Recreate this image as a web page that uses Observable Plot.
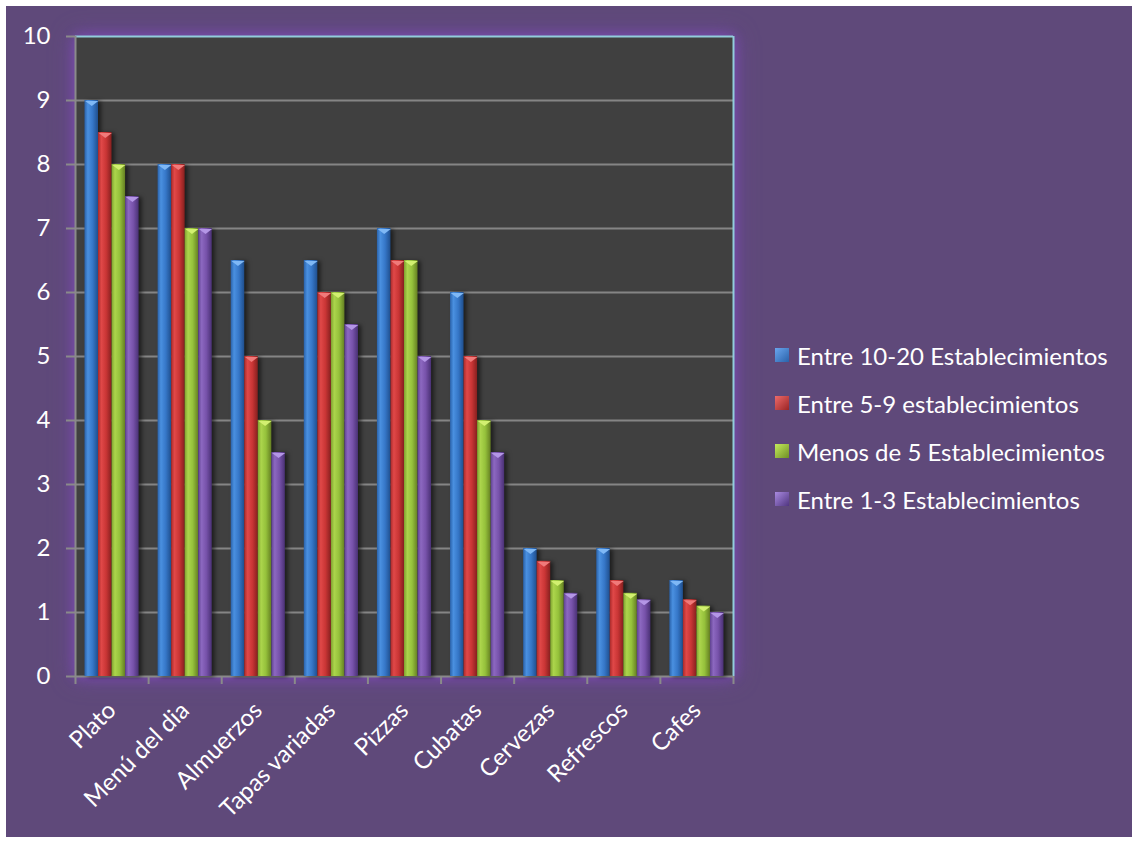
<!DOCTYPE html>
<html>
<head>
<meta charset="utf-8">
<script src="https://cdn.jsdelivr.net/npm/d3@7"></script>
<script src="https://cdn.jsdelivr.net/npm/@observablehq/plot@0.6"></script>
<style>
  html, body { margin: 0; padding: 0; background: #ffffff; width: 1132px; height: 841px; overflow: hidden; font-family: Lato, "Open Sans", sans-serif; }
  #bg { position: absolute; left: 6px; top: 6px; width: 1126px; height: 831px; background: #5f497a; }
  .layer { position: absolute; left: 0; top: 0; }
  .layer svg { display: block; }
  #back [aria-label="frame"] { filter: drop-shadow(0 0 6px #7a4cb4) drop-shadow(0 0 10px #70479f); }
  #front g[aria-label="bar"] { filter: drop-shadow(3px 1px 2px rgba(0,0,0,0.55)); }
  #legend { position: absolute; left: 775px; top: 331px; color: #ffffff; font-size: 24px; font-family: Lato, sans-serif; }
  #legend .row { display: flex; align-items: center; height: 48px; white-space: nowrap; }
  #legend .sw { width: 14px; height: 14px; margin-right: 8px; box-sizing: border-box; }
</style>
</head>
<body>
<svg width="0" height="0" style="position:absolute">
  <defs>
    <linearGradient id="g0" x1="0" x2="1" y1="0" y2="0">
      <stop offset="0" stop-color="#2a62aa"/><stop offset="0.25" stop-color="#4a90e0"/><stop offset="0.6" stop-color="#3677c8"/><stop offset="1" stop-color="#1f4f8e"/>
    </linearGradient>
    <linearGradient id="g1" x1="0" x2="1" y1="0" y2="0">
      <stop offset="0" stop-color="#a92a2a"/><stop offset="0.25" stop-color="#e04848"/><stop offset="0.6" stop-color="#c93535"/><stop offset="1" stop-color="#86201f"/>
    </linearGradient>
    <linearGradient id="g2" x1="0" x2="1" y1="0" y2="0">
      <stop offset="0" stop-color="#7ea12f"/><stop offset="0.25" stop-color="#acd54c"/><stop offset="0.6" stop-color="#95c13b"/><stop offset="1" stop-color="#657f22"/>
    </linearGradient>
    <linearGradient id="g3" x1="0" x2="1" y1="0" y2="0">
      <stop offset="0" stop-color="#5f4290"/><stop offset="0.25" stop-color="#8c68c0"/><stop offset="0.6" stop-color="#7752aa"/><stop offset="1" stop-color="#4a3175"/>
    </linearGradient>
  </defs>
</svg>
<div id="bg"></div>
<div id="back" class="layer"></div>
<div id="front" class="layer"></div>
<div id="legend"></div>
<script>
// ---- data ----
const categories = ["Plato", "Menú del dia", "Almuerzos", "Tapas variadas", "Pizzas", "Cubatas", "Cervezas", "Refrescos", "Cafes"];
const series = ["Entre 10-20 Establecimientos", "Entre 5-9 establecimientos", "Menos de 5 Establecimientos", "Entre 1-3 Establecimientos"];
const entre10a20 = [9, 8, 6.5, 6.5, 7, 6, 2, 2, 1.5];
const entre5a9   = [8.5, 8, 5, 6, 6.5, 5, 1.8, 1.5, 1.2];
const menosDe5   = [8, 7, 4, 6, 6.5, 4, 1.5, 1.3, 1.1];
const entre1a3   = [7.5, 7, 3.5, 5.5, 5, 3.5, 1.3, 1.2, 1.0];
const yTicks = [0, 1, 2, 3, 4, 5, 6, 7, 8, 9, 10];

// ---- styles ----
const barFills = ["url(#g0)", "url(#g1)", "url(#g2)", "url(#g3)"];
const capFills = ["#7fb8f5", "#f07a7a", "#d2f070", "#b496e6"];
const legendBg = [
  "linear-gradient(135deg,#6aa6ee,#2a62aa)",
  "linear-gradient(135deg,#ee6a6a,#9a2424)",
  "linear-gradient(135deg,#c4ec5c,#6f8f25)",
  "linear-gradient(135deg,#a98ae0,#503580)"
];
const W = 1132, H = 841;
const margins = {marginLeft: 75, marginRight: 399, marginTop: 36, marginBottom: 165};
const font = "Lato, 'Open Sans', sans-serif";

const valueSets = [entre10a20, entre5a9, menosDe5, entre1a3];
const rows = [];
series.forEach((s, j) => categories.forEach((c, i) => rows.push({cat: c, series: s, value: valueSets[j][i]})));

// ---- background: frame, grid, axes ----
const back = Plot.plot({
  width: W, height: H, ...margins,
  style: {background: "transparent", fontFamily: font, fontSize: "24px", color: "white"},
  x: {domain: [0, categories.length], axis: null},
  y: {domain: [0, 10], axis: null},
  marks: [
    Plot.frame({fill: "#404040", stroke: "none"}),
    Plot.gridY(yTicks.slice(1, -1), {stroke: "#858585", strokeOpacity: 1, strokeWidth: 2}),
    Plot.ruleY([10], {stroke: "#92cddc", strokeWidth: 2}),
    Plot.ruleX([categories.length], {stroke: "#92cddc", strokeWidth: 2}),
    Plot.ruleX([0], {stroke: "#8a8a8a", strokeWidth: 2}),
    Plot.ruleY([0], {stroke: "#8a8a8a", strokeWidth: 2}),
    Plot.axisY(yTicks, {tickSize: 9, tickPadding: 16, stroke: "#8a8a8a", strokeWidth: 2, fill: "white", fontSize: 24, tickFormat: d => String(d)}),
    Plot.axisX(d3.range(categories.length + 1), {tickSize: 8, stroke: "#8a8a8a", strokeWidth: 2, tickFormat: () => ""}),
    Plot.axisX(categories.map((_, i) => i + 0.5), {tickSize: 0, tickPadding: 30, tickRotate: -45, fill: "white", fontSize: 24, tickFormat: t => categories[Math.floor(t)]})
  ]
});
document.getElementById("back").appendChild(back);

// ---- foreground: grouped bars ----
const chevron = {
  draw(ctx, size) {
    const r = Math.sqrt(size / Math.PI);
    ctx.moveTo(-r, 0);
    ctx.lineTo(r, 0);
    ctx.lineTo(0, r * 0.75);
    ctx.closePath();
  }
};
const front = Plot.plot({
  width: W, height: H, ...margins,
  style: {background: "transparent", fontFamily: font},
  fx: {domain: categories, padding: 0, round: false, axis: null, label: null},
  x: {domain: series, paddingInner: 0, paddingOuter: 0.7, round: false, axis: null},
  y: {domain: [0, 10], axis: null},
  color: {domain: series, range: barFills},
  marks: [
    Plot.barY(rows, {fx: "cat", x: "series", y: "value", fill: "series", insetLeft: 0, insetRight: 0}),
    ...series.map((s, j) => Plot.dot(rows.filter(d => d.series === s), {fx: "cat", x: "series", y: "value", symbol: chevron, r: 6.6, fill: capFills[j], stroke: "none", dy: 0.5}))
  ]
});
document.getElementById("front").appendChild(front);

// ---- legend ----
const legend = document.getElementById("legend");
series.forEach((s, j) => {
  const row = document.createElement("div");
  row.className = "row";
  const sw = document.createElement("div");
  sw.className = "sw";
  sw.style.background = legendBg[j];
  const t = document.createElement("span");
  t.textContent = s;
  row.appendChild(sw);
  row.appendChild(t);
  legend.appendChild(row);
});
</script>
</body>
</html>
